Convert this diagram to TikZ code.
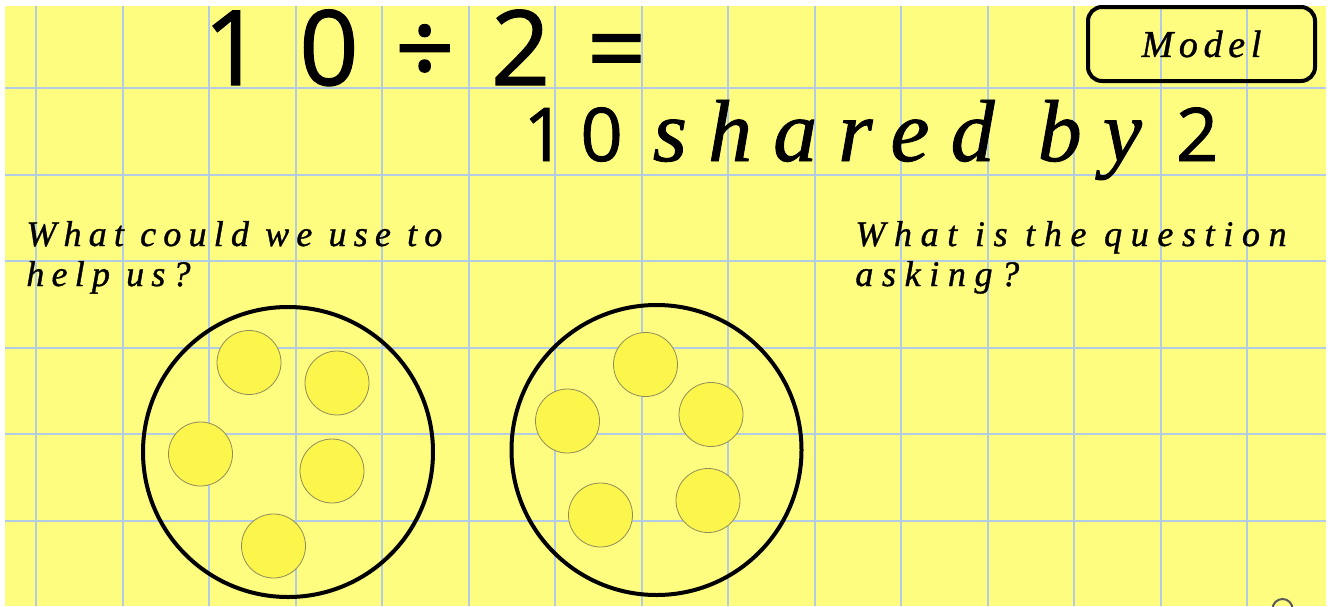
\documentclass[tikz,border=0pt]{standalone}
\usepackage{fontspec}
\setmainfont{Open Sans}
\newfontfamily\handfont[LetterSpace=20, FakeBold=1]{Liberation Serif Italic}
\newfontfamily\numfont[LetterSpace=20, FakeBold=1.2]{Open Sans}
\usetikzlibrary{positioning}
\definecolor{paper}{HTML}{FFFD80}
\definecolor{gridblue}{HTML}{B3CBE3}
\definecolor{coinfill}{HTML}{FCF54C}
\definecolor{coinedge}{HTML}{8F8C5C}

\begin{document}
\begin{tikzpicture}[x=0.5pt, y=-0.5pt,
  gridline/.style={draw=gridblue, line width=1pt},
  coin/.style={circle, draw=coinedge, line width=0.4pt, fill=coinfill, minimum size=32pt, inner sep=0pt},
  plate/.style={circle, draw, line width=2pt, minimum size=145pt, inner sep=0pt},
  hand/.style={font=\handfont\fontsize{18}{20}\selectfont, align=left, anchor=base west, inner sep=0pt}]
  \useasboundingbox (0,0) rectangle (1333,606);

  % paper and squares
  \fill[paper] (5,6) rectangle (1326,606);
  \foreach \gx in {0,...,14}
    \draw[gridline] ({36+86.5*\gx},6) -- ({36+86.5*\gx},606);
  \foreach \gy in {0,...,5}
    \draw[gridline] (5,{88+86.5*\gy}) -- (1326,{88+86.5*\gy});

  % sum and model button
  \node[anchor=base west, inner sep=0pt, font=\numfont\addfontfeature{LetterSpace=35}\fontsize{52}{60}\selectfont] (sum) at (203,85) {10÷2=};
  \node[anchor=base west, inner sep=0pt] (shared) at (523,161)
    {\numfont\fontsize{37}{40}\selectfont 10\hspace{15pt}\handfont\addfontfeature{LetterSpace=24}\fontsize{44}{44}\selectfont shared by\hspace{17pt}\numfont\fontsize{37}{40}\selectfont 2};
  \node[draw, line width=2pt, rounded corners=7pt, minimum width=113.5pt, minimum height=37pt,
        font=\handfont\addfontfeature{LetterSpace=15}\fontsize{19}{20}\selectfont] (model) at (1201.5,44) {Model};

  % questions
  \node[hand] (helpq) at (26,286) {What could we use to\\help us?};
  \node[hand, font=\handfont\addfontfeature{LetterSpace=24}\fontsize{18}{20}\selectfont] (askq) at (855,286) {What is the question\\asking?};

  % two groups of five
  \node[plate] (left) at (288,452) {};
  \node[plate] (right) at (656.5,450) {};
  \foreach \cx/\cy [count=\n] in {249/362.5, 337/383, 200.5/454, 332/471, 273.5/546}
    \node[coin] (l\n) at (\cx,\cy) {};
  \foreach \cx/\cy [count=\n] in {645.5/364.5, 567.5/421, 711/414.5, 600.5/515, 708/500.5}
    \node[coin] (r\n) at (\cx,\cy) {};

  % corner icon, cut off by the page
  \begin{scope}
    \clip (5,6) rectangle (1326,606);
    \draw[black!65, line width=1pt] (1282.5,609) circle (5pt);
  \end{scope}
\end{tikzpicture}
\end{document}
